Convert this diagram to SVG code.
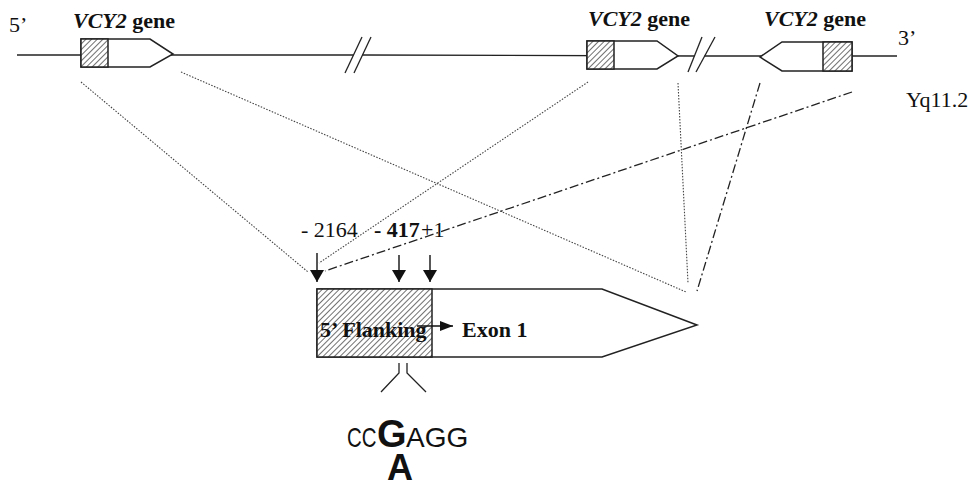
<svg xmlns="http://www.w3.org/2000/svg" width="978" height="486" viewBox="0 0 978 486">
<style>
.serif{font-family:"Liberation Serif","Times New Roman",serif;fill:#111;font-size:22px}
.b{font-weight:bold}
.bi{font-weight:bold;font-style:italic}
.box{stroke:#222;stroke-width:1.5;fill:#fff}
.chrom{stroke:#222;stroke-width:1.3;fill:none}
.dot{stroke:#444;stroke-width:1.1;stroke-dasharray:1.5 1.5;fill:none}
.dd{stroke:#222;stroke-width:1.3;stroke-dasharray:9 3 2 3;fill:none}
.arr{stroke:#111;stroke-width:1.4;fill:none}
.sans{font-family:"Liberation Sans",Arial,sans-serif;fill:#111}
</style>
<defs>
<pattern id="h" width="4" height="4" patternUnits="userSpaceOnUse" patternTransform="rotate(45)">
<rect width="4" height="4" fill="#fff"/>
<line x1="0" y1="0" x2="0" y2="4" stroke="#222" stroke-width="1.3"/>
</pattern>
<marker id="ah" markerWidth="12" markerHeight="14" refX="12" refY="7" orient="auto" markerUnits="userSpaceOnUse">
<path d="M0,0 L12,7 L0,14 Z" fill="#111"/>
</marker>
<marker id="ahs" markerWidth="13" markerHeight="10" refX="13" refY="5" orient="auto" markerUnits="userSpaceOnUse">
<path d="M0,0 L13,5 L0,10 Z" fill="#111"/>
</marker>
</defs>

<g id="chromosome">
<line class="chrom" x1="17" y1="55" x2="353.5" y2="55"/>
<line class="chrom" x1="362.5" y1="55" x2="694.5" y2="56"/>
<line class="chrom" x1="704.5" y1="56" x2="897" y2="56"/>
<line class="chrom" x1="345" y1="73" x2="362" y2="37"/>
<line class="chrom" x1="354" y1="73" x2="371" y2="37"/>
<line class="chrom" x1="688" y1="72" x2="702" y2="37"/>
<line class="chrom" x1="696" y1="72" x2="715" y2="37"/>
<text class="serif" x="9" y="32">5’</text>
<text class="serif" x="898" y="45">3’</text>
<text class="serif" x="906" y="107">Yq11.2</text>
</g>

<g id="gene1">
<path class="box" d="M81,39 H150 L173,54 L150,67 H81 Z"/>
<rect x="81" y="39" width="27" height="28" fill="url(#h)" stroke="#222" stroke-width="1.5"/>
<text class="serif" x="73" y="28"><tspan class="bi">VCY2</tspan><tspan class="b"> gene</tspan></text>
</g>

<g id="gene2">
<path class="box" d="M587,41 H657 L678,56 L657,69 H587 Z"/>
<rect x="587" y="41" width="27" height="28" fill="url(#h)" stroke="#222" stroke-width="1.5"/>
<text class="serif" x="588" y="26"><tspan class="bi">VCY2</tspan><tspan class="b"> gene</tspan></text>
</g>

<g id="gene3">
<path class="box" d="M852,42 H782 L760,57 L782,71 H852 Z"/>
<rect x="823" y="42" width="29" height="29" fill="url(#h)" stroke="#222" stroke-width="1.5"/>
<text class="serif" x="764" y="26"><tspan class="bi">VCY2</tspan><tspan class="b"> gene</tspan></text>
</g>

<g id="connectors">
<line class="dot" x1="81" y1="82" x2="308" y2="272"/>
<line class="dot" x1="181" y1="72" x2="686" y2="292"/>
<line class="dot" x1="588" y1="82" x2="319" y2="263"/>
<line class="dot" x1="678" y1="83" x2="688" y2="283"/>
<line class="dd" x1="760" y1="83" x2="697" y2="291"/>
<line class="dd" x1="852" y1="92" x2="325" y2="271"/>
</g>

<g id="exon1">
<path class="box" d="M317,289 H602 L697,325 L602,357 H317 Z"/>
<rect x="317" y="289" width="115" height="68" fill="url(#h)" stroke="#222" stroke-width="1.5"/>
<text class="serif b" x="320" y="337">5’ Flanking</text>
<line class="arr" x1="417" y1="326" x2="453" y2="326" marker-end="url(#ahs)"/>
<text class="serif b" x="462" y="337">Exon 1</text>
</g>

<g id="positions">
<line class="arr" x1="317" y1="253" x2="317" y2="282" marker-end="url(#ah)"/>
<line class="arr" x1="399" y1="255" x2="399" y2="282" marker-end="url(#ah)"/>
<line class="arr" x1="430" y1="255" x2="430" y2="282" marker-end="url(#ah)"/>
<text class="serif" x="301" y="237">- 2164</text>
<text class="serif b" x="374" y="237">- 417</text>
<text class="serif" x="421" y="237">+1</text>
</g>

<g id="snp">
<path class="chrom" d="M399,363 V373 L381,392 M407,363 V373 L426,392"/>
<text class="sans" font-size="28" transform="translate(347,447) scale(0.73,1)">CC</text>
<text class="sans" x="377" y="447" font-size="38" font-weight="bold">G</text>
<text class="sans" x="406" y="447" font-size="28">AGG</text>
<text class="sans" x="387" y="480" font-size="36" font-weight="bold">A</text>
</g>
</svg>
